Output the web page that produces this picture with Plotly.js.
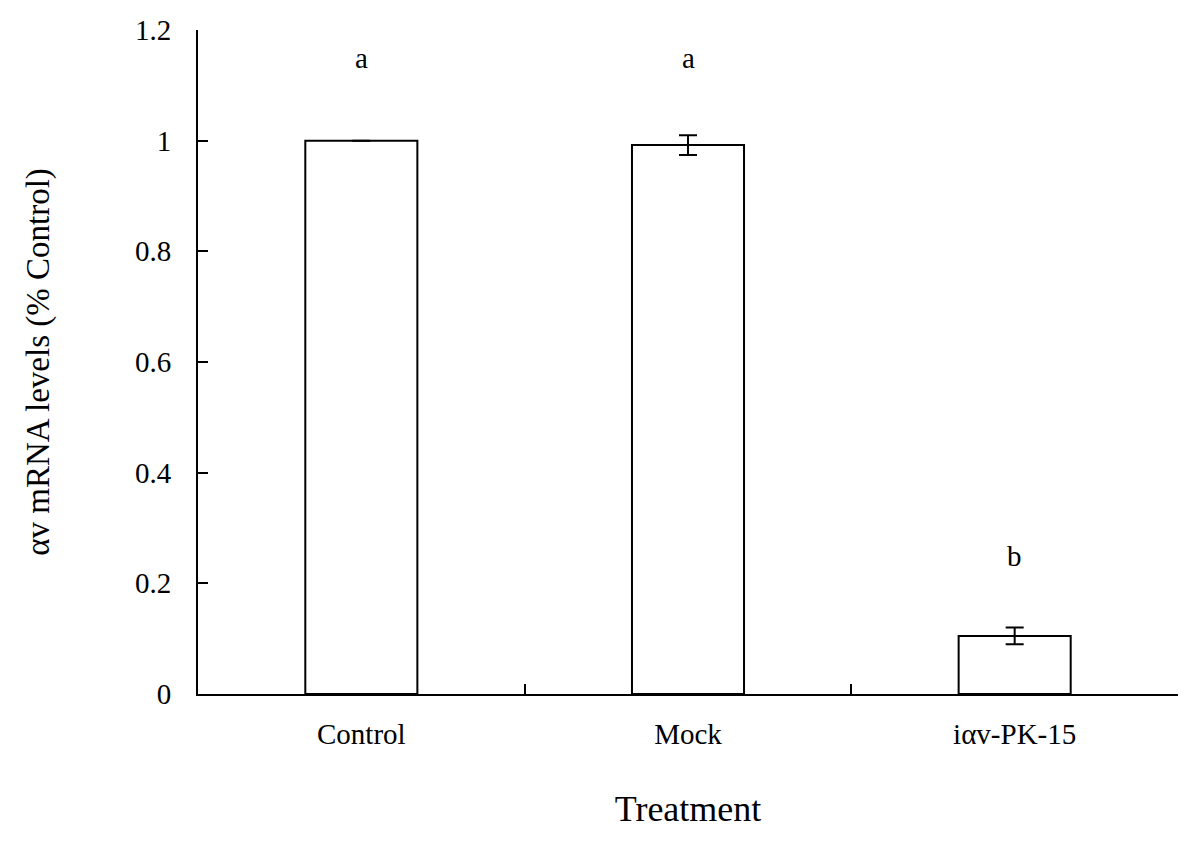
<!DOCTYPE html>
<html>
<head>
<meta charset="utf-8">
<script src="https://cdn.plot.ly/plotly-3.0.1.min.js"></script>
<style>
  html, body { margin: 0; padding: 0; background: #fff; }
  #chart { width: 1200px; height: 845px; }
</style>
</head>
<body>
<div id="chart"></div>
<script>
// values
const treatments = ['Control', 'Mock', 'i\u03B1v-PK-15'];
const mrnaLevels = [1.0, 0.992, 0.105];
const mrnaErrors = [0, 0.018, 0.015];
const groupLetters = ['a', 'a', 'b'];
const letterHeights = [1.15, 1.15, 0.25];

const serif = 'Liberation Serif, Times New Roman, serif';

const trace = {
    x: treatments,
    y: mrnaLevels,
    type: 'bar',
    width: 0.343,
    marker: { color: '#fff', line: { color: '#000', width: 2 } },
    error_y: { type: 'data', array: mrnaErrors, visible: true, color: '#000', thickness: 2, width: 9 },
    hoverinfo: 'x+y'
};

const letters = treatments.map((t, i) => ({
    x: t,
    y: letterHeights[i],
    text: groupLetters[i],
    showarrow: false,
    font: { family: serif, size: 29, color: '#000' }
}));

const layout = {
    width: 1200,
    height: 845,
    margin: { l: 198, r: 22, t: 30, b: 151 },
    paper_bgcolor: '#fff',
    plot_bgcolor: '#fff',
    showlegend: false,
    font: { family: serif, color: '#000' },
    xaxis: {
        range: [-0.5, 2.5],
        showline: true, linecolor: '#000', linewidth: 2,
        ticks: 'inside', tickson: 'boundaries', ticklen: 10, tickwidth: 2, tickcolor: '#000',
        tickfont: { family: serif, size: 29, color: '#000' },
        ticklabelstandoff: 13,
        showgrid: false, zeroline: false,
        title: { text: 'Treatment', font: { family: serif, size: 36, color: '#000' }, standoff: 47 }
    },
    yaxis: {
        range: [0, 1.2],
        tickvals: [0, 0.2, 0.4, 0.6, 0.8, 1, 1.2],
        ticktext: ['0', '0.2', '0.4', '0.6', '0.8', '1', '1.2'],
        showline: true, linecolor: '#000', linewidth: 2,
        ticks: 'inside', ticklen: 10, tickwidth: 2, tickcolor: '#000',
        tickfont: { family: serif, size: 29, color: '#000' },
        ticklabelstandoff: 19,
        showgrid: false, zeroline: false,
        title: { text: '\u03B1v mRNA levels (% Control)', font: { family: serif, size: 33, color: '#000' }, standoff: 75 }
    },
    annotations: letters
};

Plotly.newPlot('chart', [trace], layout, { displayModeBar: false, staticPlot: true });
</script>
</body>
</html>
